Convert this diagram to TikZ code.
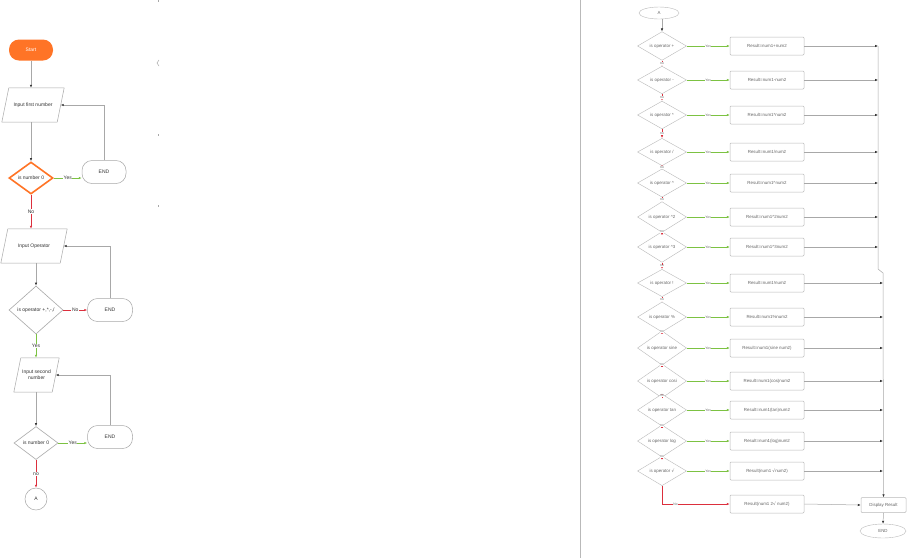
\documentclass[tikz,border=0pt]{standalone}
\usepackage{fontspec}
\setmainfont{Liberation Sans}
\newfontfamily\symfont{DejaVu Sans}
\usetikzlibrary{arrows.meta,shapes.geometric}
\definecolor{orng}{HTML}{FF7426}
\definecolor{grn}{HTML}{7CC242}
\definecolor{rd}{HTML}{DC2F3D}
\definecolor{lgray}{HTML}{A8A8A8}
\definecolor{txt}{HTML}{333333}
\begin{document}
\begin{tikzpicture}[x=1pt,y=-1pt,
  base/.style={font=\fontsize{5}{6}\selectfont, text=txt},
  small/.style={font=\fontsize{4.4}{5}\selectfont, text=black!60},
  endbox/.style={base, draw=lgray, line width=0.5pt, fill=white, rectangle, rounded corners=10pt, minimum width=44pt, minimum height=23pt},
  inbox/.style={base, rectangle, inner sep=0pt, align=center, minimum height=34pt},
  para/.style={draw=lgray, line width=0.5pt, fill=white, line join=round},
  decbox/.style={base, draw=lgray, line width=0.6pt, fill=white, diamond, inner sep=0pt},
  qdiam/.style={small, draw=lgray!80, line width=0.4pt, fill=white, diamond, inner sep=0pt, minimum width=49pt, minimum height=21pt},
  resbox/.style={small, draw=lgray!80, line width=0.5pt, fill=white, rectangle, rounded corners=1pt, minimum width=74pt, minimum height=18pt},
  conn/.style={draw=lgray, line width=0.6pt, -{Latex[length=3pt,width=2.4pt,color=black!80]}},
  yesline/.style={draw=grn, line width=0.6pt, -{Latex[length=3pt,width=2.4pt,color=grn]}},
  noline/.style={draw=rd, line width=0.6pt, -{Latex[length=3pt,width=2.4pt,color=rd]}},
  lbl/.style={base, fill=white, inner sep=0.6pt},
  slbl/.style={small, fill=white, inner sep=0.3pt, font=\fontsize{3.4}{4}\selectfont}
]
\useasboundingbox (0,0) rectangle (915,558);
\fill[white] (0,0) rectangle (915,558);

% divider and small marks
\draw[lgray!80, line width=0.8pt] (580,0) -- (580,558);
\draw[lgray, line width=0.4pt] (158,0) -- (158,2);
\draw[lgray, line width=0.5pt] (159,60) -- (157,63) -- (159,66);
\draw[lgray, line width=0.4pt] (158,134) -- (158,136);
\draw[lgray, line width=0.4pt] (158,205) -- (158,207);

% ---------- left flowchart ----------
\node[base, text=white, fill=orng, rounded corners=10pt, minimum width=44pt, minimum height=21pt] (start) at (31,50) {Start};

\node[inbox, minimum width=62pt] (in1) at (33,105) {};
\draw[para] ([xshift=7pt]in1.north west) -- (in1.north east) -- ([xshift=-7pt]in1.south east) -- (in1.south west) -- cycle;
\node[base] at (in1.center) {Input first number};

\node[decbox, draw=orng, line width=1.6pt, minimum width=44pt, minimum height=32pt] (d1) at (31,178) {is number 0};
\node[endbox] (e1) at (104,172) {END};

\node[inbox, minimum width=66pt] (in2) at (34,246) {};
\draw[para] ([xshift=7pt]in2.north west) -- (in2.north east) -- ([xshift=-7pt]in2.south east) -- (in2.south west) -- cycle;
\node[base] at (in2.center) {Input Operator};

\node[decbox, minimum width=54pt, minimum height=48pt] (d2) at (36,310) {is operator +,*,-,/};
\node[endbox, minimum width=45pt] (e2) at (110,310) {END};

\node[inbox, minimum width=45pt] (in3) at (36.5,375) {};
\draw[para] ([xshift=7pt]in3.north west) -- (in3.north east) -- ([xshift=-7pt]in3.south east) -- (in3.south west) -- cycle;
\node[base, align=center] at (in3.center) {Input second\\number};

\node[decbox, minimum width=44pt, minimum height=33pt] (d3) at (36,443) {is number 0};
\node[endbox, minimum width=45pt] (e3) at (110,437) {END};
\node[base, draw=lgray, line width=0.5pt, circle, minimum size=22pt, inner sep=0pt] (A1) at (36,499) {A};

\draw[conn] (start.south) -- (start.south |- in1.north);
\draw[conn] (d1.north |- in1.south) -- (d1.north);
\draw[yesline] (d1.east) -- node[lbl]{Yes} (d1.east -| e1.west);
\draw[conn] (e1.north) |- ([xshift=-3.5pt]in1.east);
\draw[noline] (d1.south) -- node[lbl]{No} (d1.south |- in2.north);

\draw[conn] (d2.north |- in2.south) -- (d2.north);
\draw[noline] (d2.east) -- node[lbl]{No} (e2.west);
\draw[conn] (e2.north) |- ([xshift=-3.5pt]in2.east);
\draw[yesline] (d2.south) -- node[lbl]{Yes} (d2.south |- in3.north);

\draw[conn] (d3.north |- in3.south) -- (d3.north);
\draw[yesline] (d3.east) -- node[lbl]{Yes} (d3.east -| e3.west);
\draw[conn] (e3.north) |- ([xshift=-3.5pt]in3.east);
\draw[noline] (d3.south) -- node[lbl]{no} (A1.north);

% ---------- right flowchart ----------
\node[small, draw=lgray!80, line width=0.4pt, ellipse, minimum width=40pt, minimum height=12pt, inner sep=0pt] (A2) at (659,13) {A};

\foreach \i/\y/\c/\q/\r in {
  1/46/878/{is operator +}/{Result=num1+num2},
  2/80/878/{is operator -}/{Result=num1-num2},
  3/115/878/{is operator *}/{Result=num1*num2},
  4/152/878/{is operator /}/{Result=num1/num2},
  5/183/878/{is operator \textasciicircum}/{Result=num1\textasciicircum num2},
  6/217/878/{is operator \textasciicircum 2}/{Result=num1\textasciicircum 2num2},
  7/247/878/{is operator \textasciicircum 3}/{Result=num1\textasciicircum 3num2},
  8/283/883/{is operator !}/{Result=num1!num2},
  9/317/883/{is operator \%}/{Result=num1\%num2},
  10/348/883/{is operator sine}/{Result=num1(sine num2)},
  11/381/883/{is operator cosi}/{Result=num1(cos)num2},
  12/410/883/{is operator tan}/{Result=num1(tan)num2},
  13/441/883/{is operator log}/{Result=num1(log)num2},
  14/471/883/{is operator {\symfont √}}/{Result(num1 {\symfont √}num2)}}{
  \node[qdiam] (q\i) at (662,\y) {\q};
  \node[resbox] (r\i) at (767,\y) {\r};
  \coordinate (j\i) at (\c,\y);
  \draw[yesline, line width=0.5pt] (q\i.east) -- node[slbl]{Yes} (r\i.west);
  \draw[conn, line width=0.45pt] (r\i.east) -- (j\i);
}
\node[resbox] (r15) at (767,504) {Result(num1 2{\symfont √} num2)};

\draw[conn, line width=0.5pt] (A2.south -| q1.north) -- (q1.north);
\foreach \i [evaluate=\i as \n using int(\i+1)] in {1,...,13}{
  \draw[noline, line width=0.65pt] (q\i.south) -- node[slbl]{no} (q\n.north);
}
\draw[noline, line width=0.6pt] (q14.south) |- node[slbl, pos=0.6]{No} (r15.west);

\node[small, draw=lgray!80, line width=0.5pt, rounded corners=1pt, minimum width=45pt, minimum height=15pt, inner sep=0pt] (disp) at (883.5,505) {Display Result};
\node[small, draw=lgray!80, line width=0.4pt, ellipse, minimum width=46pt, minimum height=14pt, inner sep=0pt] (fin) at (883,531) {END};

\coordinate (k1) at (878,269);
\coordinate (k2) at (883,273);
\draw[conn, line width=0.5pt] (j1) -- (k1) -- (k2) -- (disp.north);
\draw[conn, line width=0.5pt] (r15.east) -- (disp.west);
\draw[conn, line width=0.5pt] (disp.south) -- (fin.north);
\end{tikzpicture}
\end{document}
